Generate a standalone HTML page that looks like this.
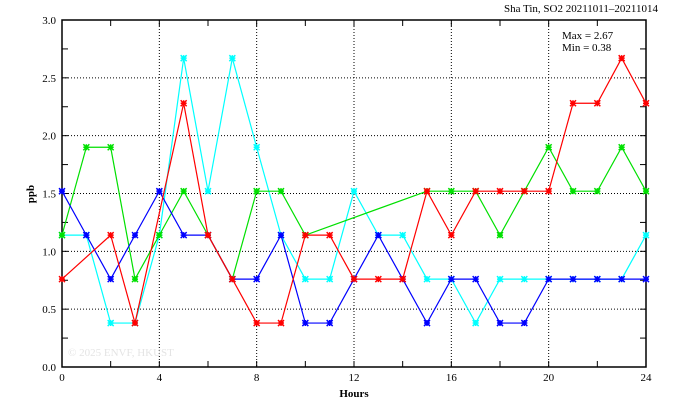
<!DOCTYPE html>
<html><head><style>body{margin:0;background:#fff}svg{display:block}text{font-family:"Liberation Serif",serif;font-size:11px}</style></head><body>
<svg width="674" height="409" viewBox="0 0 674 409">
<rect width="674" height="409" fill="#fff"/>
<g id="grid" stroke="#000" stroke-width="1" stroke-dasharray="1,2" fill="none"></g>
<rect x="62" y="20" width="584" height="347" fill="none" stroke="#000" stroke-width="1.5"/>
<g id="ticks" stroke="#000" stroke-width="1"></g>
<g id="labels" font-size="11"></g>
<g id="series" fill="none" stroke-width="1.2"></g>
<text x="658" y="12" text-anchor="end" font-size="11">Sha Tin, SO2 20211011–20211014</text>
<text x="562" y="39" font-size="11">Max = 2.67</text>
<text x="562" y="51" font-size="11">Min = 0.38</text>
<text x="354" y="397" text-anchor="middle" font-weight="bold" font-size="11">Hours</text>
<text x="34" y="194" text-anchor="middle" font-weight="bold" transform="rotate(-90 34 194)">ppb</text>
<text x="68" y="356" fill="#e4e4e4" font-size="11">© 2025  ENVF, HKUST</text>
</svg>
<script>
const X=h=>62+h*584/24, Y=v=>367-v*347/3, ns="http://www.w3.org/2000/svg";
function el(p,t,a){const e=document.createElementNS(ns,t);for(const k in a)e.setAttribute(k,a[k]);p.appendChild(e);return e;}
const g=document.getElementById('grid'),t=document.getElementById('ticks'),l=document.getElementById('labels'),s=document.getElementById('series');
for(let h=4;h<24;h+=4)el(g,'line',{x1:X(h),x2:X(h),y1:20,y2:367});
for(let v=0.5;v<3;v+=0.5)el(g,'line',{x1:62,x2:646,y1:Y(v),y2:Y(v)});
for(let h=0;h<=24;h+=2){el(t,'line',{x1:X(h),x2:X(h),y1:367,y2:361});el(t,'line',{x1:X(h),x2:X(h),y1:20,y2:26});}
for(let v=0;v<=3;v+=0.25){el(t,'line',{x1:62,x2:68,y1:Y(v),y2:Y(v)});el(t,'line',{x1:646,x2:640,y1:Y(v),y2:Y(v)});}
for(let h=0;h<=24;h+=4){const e=el(l,'text',{x:X(h),y:381,'text-anchor':'middle'});e.textContent=h;}
for(let v=0;v<=3;v+=0.5){const e=el(l,'text',{x:56,y:Y(v)+4,'text-anchor':'end'});e.textContent=v.toFixed(1);}
const a=.38,b=.76,c=1.14,d=1.52,e1=1.9,f=2.28,k=2.67;
const S=[
["#00ffff",[[0,c],[1,c],[2,a],[3,a],[4,c],[5,k],[6,d],[7,k],[8,e1],[9,c],[10,b],[11,b],[12,d],[13,c],[14,c],[15,b],[16,b],[17,a],[18,b],[19,b],[20,b],[21,b],[22,b],[23,b],[24,c]]],
["#00e000",[[0,c],[1,e1],[2,e1],[3,b],[4,c],[5,d],[6,c],[7,b],[8,d],[9,d],[10,c],[15,d],[16,d],[17,d],[18,c],[19,d],[20,e1],[21,d],[22,d],[23,e1],[24,d]]],
["#0000ff",[[0,d],[1,c],[2,b],[3,c],[4,d],[5,c],[6,c],[7,b],[8,b],[9,c],[10,a],[11,a],[12,b],[13,c],[14,b],[15,a],[16,b],[17,b],[18,a],[19,a],[20,b],[21,b],[22,b],[23,b],[24,b]]],
["#ff0000",[[0,b],[2,c],[3,a],[5,f],[6,c],[7,b],[8,a],[9,a],[10,c],[11,c],[12,b],[13,b],[14,b],[15,d],[16,c],[17,d],[18,d],[19,d],[20,d],[21,f],[22,f],[23,k],[24,f]]]];
for(const [col,pts] of S){el(s,'polyline',{stroke:col,points:pts.map(p=>X(p[0])+','+Y(p[1])).join(' ')});
for(const p of pts){const x=X(p[0]),y=Y(p[1]);el(s,'path',{stroke:col,'stroke-width':1.5,d:`M${x-3} ${y-3}L${x+3} ${y+3}M${x-3} ${y+3}L${x+3} ${y-3}M${x} ${y-3}V${y+3}M${x-3} ${y}H${x+3}`});}}
</script>
</body></html>
